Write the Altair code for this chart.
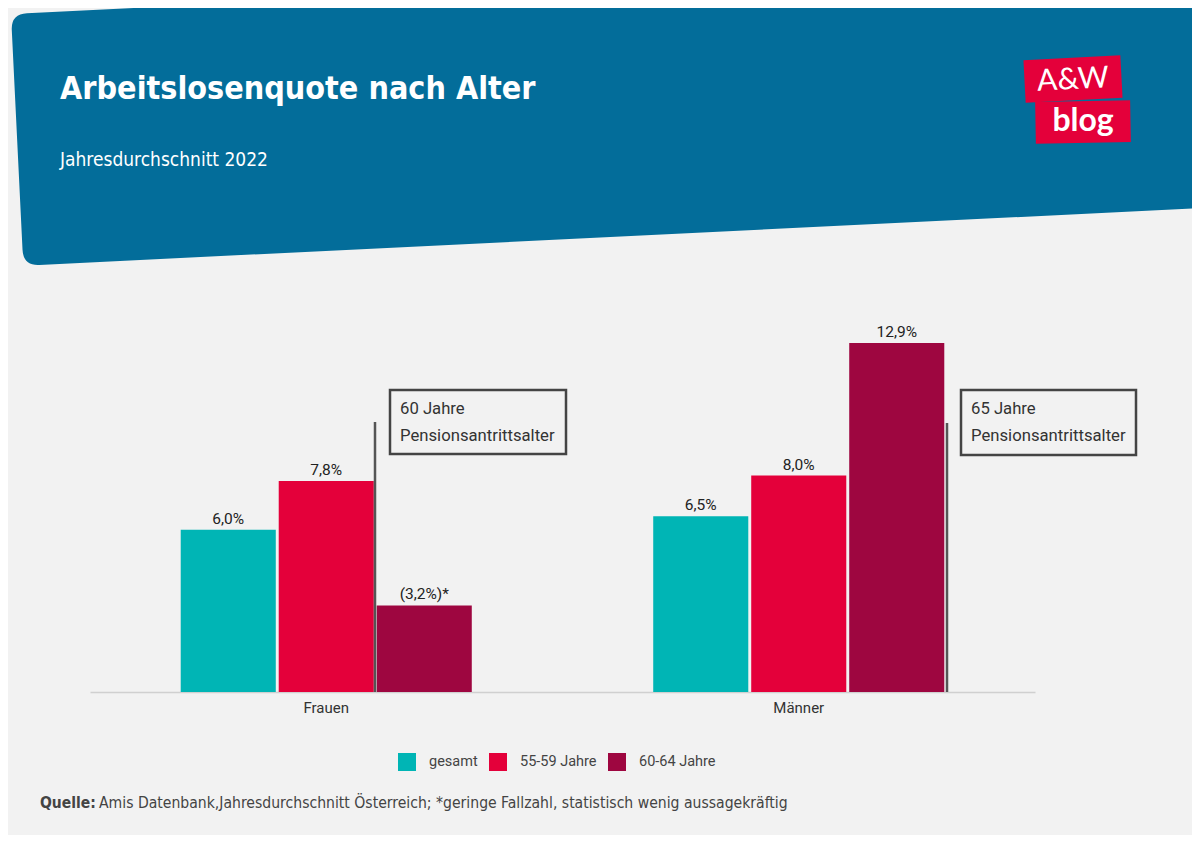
import math
import altair as alt
import pandas as pd

# ---------------- data ----------------
groups = ["Frauen", "Männer"]
series = ["gesamt", "55-59 Jahre", "60-64 Jahre"]
values_frauen = [6.0, 7.8, 3.2]
values_maenner = [6.5, 8.0, 12.9]
labels_frauen = ["6,0%", "7,8%", "(3,2%)*"]
labels_maenner = ["6,5%", "8,0%", "12,9%"]
colors = ["#00b5b5", "#e4003a", "#9e0640"]

title_text = "Arbeitslosenquote nach Alter"
subtitle_text = "Jahresdurchschnitt 2022"
note_frauen = ["60 Jahre", "Pensionsantrittsalter"]
note_maenner = ["65 Jahre", "Pensionsantrittsalter"]
source_bold = "Quelle:"
source_text = "Amis Datenbank,Jahresdurchschnitt Österreich; *geringe Fallzahl, statistisch wenig aussagekräftig"
logo_top = "A&W"
logo_bottom = "blog"

rows = []
for g, vals, labs in [("Frauen", values_frauen, labels_frauen), ("Männer", values_maenner, labels_maenner)]:
    for s, v, l in zip(series, vals, labs):
        rows.append({"group": g, "series": s, "value": v, "label": l})
df = pd.DataFrame(rows)

# ---------------- style ----------------
BG = "#f2f2f2"
BLUE = "#036d9a"
LOGO_RED = "#e4003a"
NARROW = "Liberation Sans Narrow, DejaVu Sans Condensed, Roboto Condensed, Roboto, sans-serif"
BODY = "Roboto, Lato, sans-serif"
W, H = 1184, 827
OFF = 8  # page margin


def cx(px):
    return px - OFF


one = alt.Data(values=[{"k": 1}])


def banner_path(ccx, ccy, S):
    th = math.radians(2.8)
    ux, uy = math.cos(th), -math.sin(th)
    vx, vy = math.sin(th), math.cos(th)
    p0 = (cx(11), cx(14))
    w, h, r = 1300, 252, 16

    def P(a, b):
        x = p0[0] + a * ux + b * vx
        y = p0[1] + a * uy + b * vy
        return f"{(x - ccx) / S:.5f},{(y - ccy) / S:.5f}"

    return (f"M{P(r, 0)}L{P(w, 0)}L{P(w, h)}L{P(r, h)}Q{P(0, h)} {P(0, h - r)}"
            f"L{P(0, r)}Q{P(0, 0)} {P(r, 0)}Z")


S = 700
BCX, BCY = 592, 122
banner = alt.Chart(one).mark_point(
    shape=banner_path(BCX, BCY, S), filled=True, color=BLUE, opacity=1, strokeWidth=0
).encode(x=alt.value(BCX), y=alt.value(BCY), size=alt.value((2 * S) ** 2))

rect_path = "M-1,-0.44L1,-0.44L1,0.44L-1,0.44Z"
logo1 = alt.Chart(one).mark_point(
    shape=rect_path, filled=True, color=LOGO_RED, opacity=1, strokeWidth=0, angle=357
).encode(x=alt.value(cx(1073)), y=alt.value(cx(79)), size=alt.value(97 ** 2))
logo2 = alt.Chart(one).mark_point(
    shape=rect_path, filled=True, color=LOGO_RED, opacity=1, strokeWidth=0, angle=359
).encode(x=alt.value(cx(1083)), y=alt.value(cx(122)), size=alt.value(95 ** 2))
logo_t1 = alt.Chart(one).mark_text(
    text=logo_top, font="Lato, sans-serif", fontSize=30, color="white", align="center",
    baseline="middle", angle=357
).encode(x=alt.value(cx(1073)), y=alt.value(cx(80)))
logo_t2 = alt.Chart(one).mark_text(
    text=logo_bottom, font="Lato, sans-serif", fontSize=32, fontWeight="bold", color="white",
    align="center", baseline="middle"
).encode(x=alt.value(cx(1083)), y=alt.value(cx(121)))

title = alt.Chart(one).mark_text(
    text=title_text, font=NARROW, fontSize=32, fontWeight="bold", color="white",
    align="left", baseline="alphabetic"
).encode(x=alt.value(cx(60)), y=alt.value(cx(99)))
subtitle = alt.Chart(one).mark_text(
    text=subtitle_text, font=NARROW, fontSize=19, color="white",
    align="left", baseline="alphabetic"
).encode(x=alt.value(cx(60)), y=alt.value(cx(166)))

x_enc = alt.X(
    "group:N",
    sort=groups,
    scale=alt.Scale(domain=groups, range=[cx(90), cx(1035)], paddingInner=0.384, paddingOuter=0.192),
    axis=alt.Axis(title=None, labelAngle=0, ticks=False, domainColor="#d0d0d0", domainWidth=1.5,
                  labelFont=BODY, labelFontSize=15, labelColor="#333333", labelPadding=8,
                  offset=cx(692) - H, grid=False),
)
y_enc = alt.Y("value:Q", scale=alt.Scale(domain=[0, 13], range=[cx(692), cx(692) - 13 * 27.05], nice=False, zero=True),
              axis=None)
xo_enc = alt.XOffset("series:N", sort=series, scale=alt.Scale(domain=series, paddingInner=0.03, paddingOuter=0))

bars = alt.Chart(df).mark_bar().encode(
    x=x_enc, y=y_enc, xOffset=xo_enc,
    color=alt.Color("series:N", sort=series, scale=alt.Scale(domain=series, range=colors),
                    legend=alt.Legend(title=None, orient="none", direction="horizontal",
                                      legendX=cx(398), legendY=cx(753), symbolType="square",
                                      symbolSize=324, symbolStrokeWidth=0, symbolOpacity=1,
                                      labelFont=BODY, labelFontSize=14.5, labelColor="#444444",
                                      labelOffset=13, columnPadding=11, padding=0)),
)
value_labels = alt.Chart(df).mark_text(
    font=BODY, fontSize=15.5, color="#222222", baseline="middle", dy=-11
).encode(x=x_enc, y=y_enc, xOffset=xo_enc, text="label:N")

# annotations (pension age)
ann_layers = []
for lx, ly0, bx0, bx1, by0, by1, lines in [
    (375, 422, 390, 566, 390, 454, note_frauen),
    (947, 423, 961, 1136, 390, 455, note_maenner),
]:
    ann_layers.append(alt.Chart(one).mark_rule(color="#555555", strokeWidth=2.5).encode(
        x=alt.value(cx(lx)), y=alt.value(cx(ly0)), y2=alt.value(cx(692))))
    ann_layers.append(alt.Chart(one).mark_rect(fillOpacity=0, stroke="#444444", strokeWidth=2.5).encode(
        x=alt.value(cx(bx0)), x2=alt.value(cx(bx1)), y=alt.value(cx(by0)), y2=alt.value(cx(by1))))
    for i, t in enumerate(lines):
        ann_layers.append(alt.Chart(one).mark_text(
            text=t, font=BODY, fontSize=16.7, color="#333333", align="left", baseline="middle"
        ).encode(x=alt.value(cx(bx0 + 10)), y=alt.value(cx(409 + 27 * i))))

src1 = alt.Chart(one).mark_text(
    text=source_bold, font=NARROW, fontSize=15.5, fontWeight="bold", color="#444444",
    align="left", baseline="alphabetic"
).encode(x=alt.value(cx(40)), y=alt.value(cx(808)))
src2 = alt.Chart(one).mark_text(
    text=source_text, font=NARROW, fontSize=15.6, color="#444444",
    align="left", baseline="alphabetic"
).encode(x=alt.value(cx(99)), y=alt.value(cx(808)))

chart = alt.layer(
    banner, logo1, logo2, logo_t1, logo_t2, title, subtitle,
    bars, value_labels, *ann_layers, src1, src2
).properties(
    width=W, height=H, padding=0,
    autosize=alt.AutoSizeParams(type="none"),
    background=BG,
).configure_view(stroke=None)

chart.save("out.html", embed_options={"renderer": "svg", "actions": False})
